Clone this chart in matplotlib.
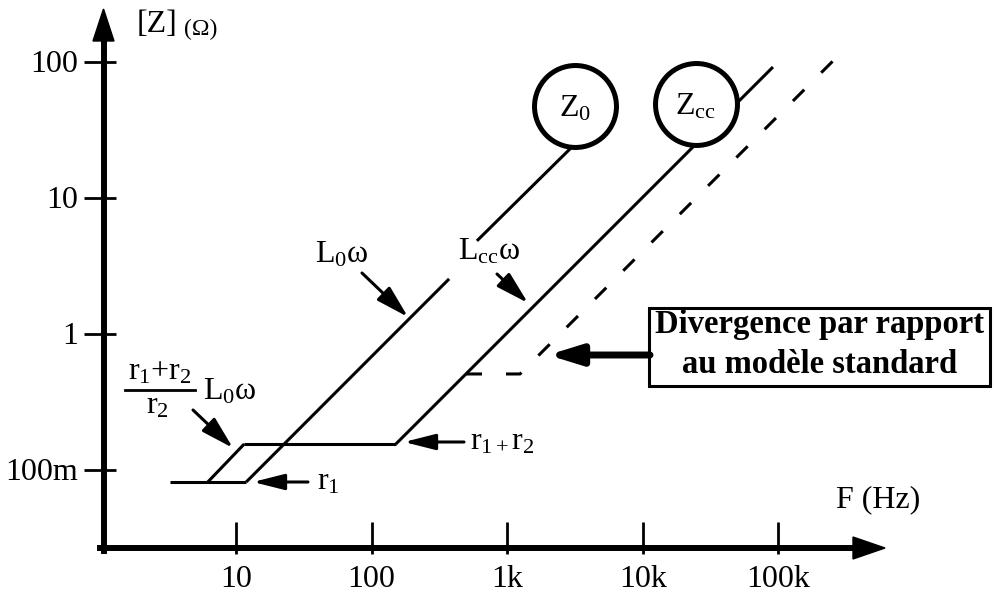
import matplotlib
matplotlib.use('Agg')
import matplotlib.pyplot as plt
from matplotlib.patches import Polygon, Rectangle
from matplotlib.lines import Line2D
from matplotlib.ticker import NullFormatter

# ---------------- data (Hz, ohm) ----------------
r1_f, r1_z = [3.26, 11.9], [0.081, 0.081]            # r1 plateau
step_f, step_z = [6.2, 11.5], [0.081, 0.154]          # (r1+r2)/r2 L0w
r12_f, r12_z = [11.5, 151], [0.154, 0.154]            # r1+r2 plateau
l0_low_f, l0_low_z = [11.9, 373], [0.081, 2.52]       # L0w (lower part)
l0_up_f, l0_up_z = [598, 3000], [4.8, 23.5]           # L0w (upper part)
lcc_f, lcc_z = [151, 91200], [0.154, 91.1]            # Lcc w
div_f, div_z = [497, 1243, 299000], [0.504, 0.504, 119.4]  # measured divergence
circle_f, circle_z = [3162, 24660], [47.1, 48.7]
circle_labels = [r'Z$_0$', r'Z$_{cc}$']
xticks = [10, 100, 1000, 10000, 100000]
xtick_labels = ['10', '100', '1k', '10k', '100k']
yticks = [0.1, 1, 10, 100]
ytick_labels = ['100m', '1', '10', '100']

# ---------------- styling ----------------
plt.rcParams['font.family'] = ['Liberation Serif', 'DejaVu Serif']
plt.rcParams['mathtext.fontset'] = 'custom'
plt.rcParams['mathtext.rm'] = 'Liberation Serif'
plt.rcParams['mathtext.it'] = 'Liberation Serif:italic'
plt.rcParams['mathtext.bf'] = 'Liberation Serif:bold'
plt.rcParams['mathtext.default'] = 'rm'

FS = 23
W, H = 996, 597
fig = plt.figure(figsize=(W / 100, H / 100), dpi=100)
ax = fig.add_axes([0, 0, 1, 1])
ax.set_facecolor('white')

# pixel layout of the reference -> scale limits
X1K_PX, XDEC = 507.2, 135.6
Y1_PX, YDEC = 333.5, 136.0


def fx(px):
    return 10 ** (3 + (px - X1K_PX) / XDEC)


def fy(py):
    return 10 ** ((Y1_PX - py) / YDEC)


def P(px, py):
    return (px / W, 1 - py / H)


ax.set_xscale('log')
ax.set_yscale('log')
ax.set_xlim(fx(0), fx(W))
ax.set_ylim(fy(H), fy(0))

LW = 2.2
k = dict(color='black', lw=LW, solid_capstyle='butt')
ax.plot(r1_f, r1_z, **k)
ax.plot(step_f, step_z, **k)
ax.plot(r12_f, r12_z, **k)
ax.plot(l0_low_f, l0_low_z, **k)
ax.plot(l0_up_f, l0_up_z, **k)
ax.plot(lcc_f, lcc_z, **k)
ax.plot(div_f, div_z, color='black', lw=LW, dashes=(11.5 / LW, 17.3 / LW))

ax.plot(circle_f, circle_z, ls='none', marker='o', ms=59, mfc='white',
        mec='black', mew=3.6, zorder=5)
for f, z, lab in zip(circle_f, circle_z, circle_labels):
    ax.annotate(lab, xy=(f, z), xytext=(0, -7.5), textcoords='offset points',
                ha='center', va='baseline', fontsize=FS, zorder=6)

# axes
for s in ('top', 'right'):
    ax.spines[s].set_visible(False)
ax.spines['left'].set_position(('data', fx(103.5)))
ax.spines['bottom'].set_position(('data', fy(548)))
ax.spines['left'].set_bounds(fy(551), fy(38))
ax.spines['bottom'].set_bounds(fx(100), fx(856))
ax.spines['left'].set_linewidth(4.3)
ax.spines['bottom'].set_linewidth(4.3)

ax.xaxis.remove_overlapping_locs = False
ax.yaxis.remove_overlapping_locs = False
ax.set_xticks(xticks, xtick_labels)
ax.set_xticks(xticks, minor=True)
ax.set_yticks(yticks, ytick_labels)
ax.set_yticks(yticks, minor=True)
ax.xaxis.set_minor_formatter(NullFormatter())
ax.yaxis.set_minor_formatter(NullFormatter())
ax.tick_params(axis='x', which='major', direction='in', length=18.7, width=2,
               pad=12, labelsize=FS)
ax.tick_params(axis='x', which='minor', direction='out', length=4.3, width=2)
ax.tick_params(axis='y', which='major', direction='in', length=8.6, width=2,
               pad=18, labelsize=FS)
ax.tick_params(axis='y', which='minor', direction='out', length=14.4, width=2)

# axis arrow heads
fig.add_artist(Polygon([P(853, 537), P(885, 548), P(853, 559)], closed=True,
                       transform=fig.transFigure, color='black'))
fig.add_artist(Polygon([P(93, 41), P(103.5, 9), P(114, 41)], closed=True,
                       transform=fig.transFigure, color='black'))

# axis titles
fig.text(*P(137, 32), '[Z]', fontsize=FS, ha='left', va='baseline')
fig.text(*P(184, 35), '(Ω)', fontsize=17, ha='left', va='baseline')
fig.text(*P(836, 507), 'F (Hz)', fontsize=FS, ha='left', va='baseline')

# annotations
fig.text(*P(342, 262), r'L$_0$ω', fontsize=FS, ha='center', va='baseline')
fig.text(*P(489, 260), r'L$_{cc}$ω', fontsize=FS, ha='center', va='baseline')
fig.text(*P(160, 379), r'r$_1$+r$_2$', fontsize=FS, ha='center', va='baseline')
fig.text(*P(157, 414), r'r$_2$', fontsize=FS, ha='center', va='baseline')
fig.add_artist(Line2D([125 / W, 195 / W], [1 - 390 / H, 1 - 390 / H],
                      transform=fig.transFigure, color='black', lw=2))
fig.text(*P(203, 400), r'L$_0$ω', fontsize=FS, ha='left', va='baseline')
fig.text(*P(317, 489), r'r$_1$', fontsize=FS, ha='left', va='baseline')
fig.text(*P(470, 450), r'r$_{1+}$r$_2$', fontsize=FS, ha='left', va='baseline')


def arrow(tail, tip, lw=2.2, hl=0.95, hw=0.24):
    ax.annotate('', xy=P(*tip), xycoords='figure fraction',
                xytext=P(*tail), textcoords='figure fraction',
                arrowprops=dict(arrowstyle=f'-|>,head_length={hl},head_width={hw}',
                                lw=lw, color='black', shrinkA=0, shrinkB=0,
                                mutation_scale=20))


arrow((362, 273), (408, 317), hl=1.0, hw=0.28)
arrow((497, 274), (528, 303), hl=1.0, hw=0.28)
arrow((193, 410), (233, 448), hl=1.0, hw=0.28)
arrow((308, 482), (253, 482))
arrow((464, 442), (404, 442))
arrow((650, 355), (548, 355), lw=5, hl=0.97, hw=0.3)

# divergence box
fig.add_artist(Rectangle(P(649, 386), (990 - 649) / W, (386 - 308) / H,
                         transform=fig.transFigure, fill=False, lw=2.2,
                         edgecolor='black'))
fig.text(*P(820, 333), 'Divergence par rapport', fontsize=23.5,
         fontweight='bold', ha='center', va='baseline')
fig.text(*P(820, 373), 'au modèle standard', fontsize=23.5,
         fontweight='bold', ha='center', va='baseline')

fig.savefig('out.png', dpi=100)
